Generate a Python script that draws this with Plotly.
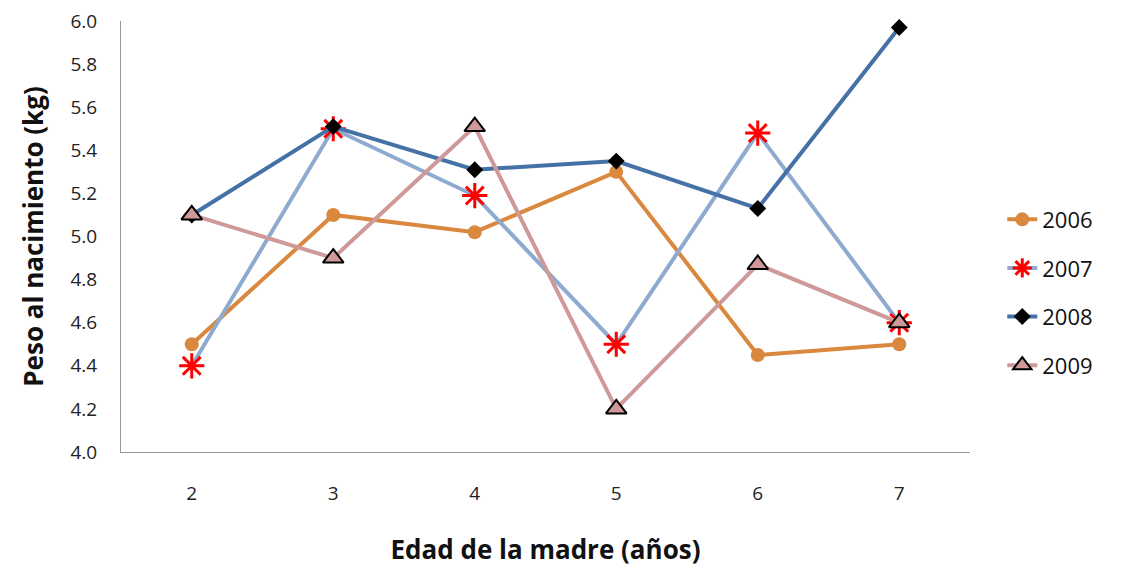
import plotly.graph_objects as go

edad = [2, 3, 4, 5, 6, 7]
peso_2006 = [4.50, 5.10, 5.02, 5.30, 4.45, 4.50]
peso_2007 = [4.40, 5.50, 5.19, 4.50, 5.48, 4.60]
peso_2008 = [5.10, 5.51, 5.31, 5.35, 5.13, 5.97]
peso_2009 = [5.10, 4.90, 5.51, 4.20, 4.87, 4.60]
y_ticks = [4.0, 4.2, 4.4, 4.6, 4.8, 5.0, 5.2, 5.4, 5.6, 5.8, 6.0]

font_fam = "Open Sans, Noto Sans, sans-serif"

fig = go.Figure()
series = [
    ("2006", peso_2006, "#D9883E", dict(symbol="circle", size=14, color="#D9883E")),
    ("2007", peso_2007, "#8FAAD0", dict(symbol="asterisk-open", size=21, color="#FF0000",
                                        line=dict(color="#FF0000", width=3))),
    ("2008", peso_2008, "#4471A6", dict(symbol="diamond", size=13, color="#000000")),
    ("2009", peso_2009, "#D09999", dict(symbol="triangle-up", size=18, color="#D09999",
                                        line=dict(color="#000000", width=2))),
]
for i, (name, vals, lc, mk) in enumerate(series):
    fig.add_trace(go.Scatter(
        x=edad, y=vals, name=name, mode="lines+markers",
        line=dict(color=lc, width=4), marker=mk, legendgroup=f"g{i}",
        cliponaxis=False,
    ))

fig.update_layout(
    width=1135, height=567,
    margin=dict(l=113, r=173, t=13, b=123),
    paper_bgcolor="white", plot_bgcolor="white",
    font=dict(family=font_fam, color="#222222", size=19),
    showlegend=True,
    legend=dict(x=1.038, y=0.37, xanchor="left", yanchor="middle",
                font=dict(size=22, color="#111111"), tracegroupgap=17,
                bgcolor="rgba(0,0,0,0)"),
    xaxis=dict(range=[1.5, 7.5], tickvals=edad, ticktext=[str(v) for v in edad],
               showgrid=False, zeroline=False, showline=True, linecolor="#999999",
               linewidth=1, ticks="", ticklabelstandoff=24, automargin=False,
               ticklabeloverflow="allow",
               tickfont=dict(size=19, color="#222222"),
               title=dict(text="<b>Edad de la madre (años)</b>", font=dict(size=26, color="#111111"),
                          standoff=36)),
    yaxis=dict(range=[4.0, 6.0], tickvals=y_ticks, ticktext=[f"{v:.1f}" for v in y_ticks],
               showgrid=False, zeroline=False, showline=True, linecolor="#999999",
               linewidth=1, ticks="", ticklabelstandoff=19, automargin=False,
               ticklabeloverflow="allow",
               tickfont=dict(size=19, color="#222222"),
               title=dict(text="<b>Peso al nacimiento (kg)</b>", font=dict(size=26, color="#111111"),
                          standoff=19)),
)

fig.write_html("out.html")
